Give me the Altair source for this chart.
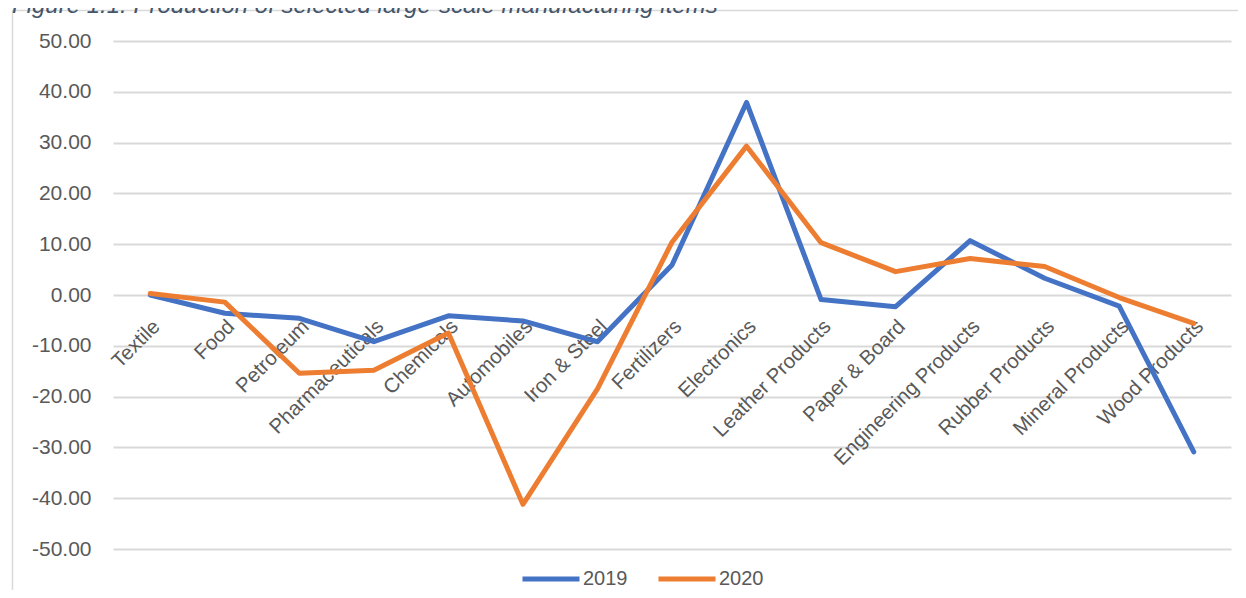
import altair as alt
import pandas as pd

categories = ["Textile", "Food", "Petroleum", "Pharmaceuticals", "Chemicals",
              "Automobiles", "Iron & Steel", "Fertilizers", "Electronics",
              "Leather Products", "Paper & Board", "Engineering Products",
              "Rubber Products", "Mineral Products", "Wood Products"]
values_2019 = [0.0, -3.6, -4.6, -9.2, -4.1, -5.1, -9.2, 5.9, 37.9,
               -0.9, -2.3, 10.7, 3.3, -2.2, -30.9]
values_2020 = [0.3, -1.4, -15.4, -14.8, -7.5, -41.2, -18.5, 10.4, 29.3,
               10.3, 4.6, 7.2, 5.6, -0.5, -5.6]
years = ["2019", "2020"]
colors = ["#4472C4", "#ED7D31"]
y_ticks = [-50, -40, -30, -20, -10, 0, 10, 20, 30, 40, 50]
title_text = "Figure 1.1: Production of selected large-scale manufacturing items"

rows = []
for c, a, b in zip(categories, values_2019, values_2020):
    rows.append({"Category": c, "Year": "2019", "Value": a})
    rows.append({"Category": c, "Year": "2020", "Value": b})
df = pd.DataFrame(rows)

W, H = 1118, 508
FONT = "Liberation Sans"
TXT = "#595959"
GRID = "#D9D9D9"

lines = alt.Chart(df).mark_line(strokeWidth=5, strokeCap="round", strokeJoin="round").encode(
    x=alt.X("Category:N", sort=categories, scale=alt.Scale(padding=0.5),
            axis=alt.Axis(title=None, orient="bottom", offset=-H / 2, domain=False, ticks=False,
                          grid=False, labelAngle=315, labelAlign="right", labelBaseline="top",
                          labelPadding=21, labelOffset=-1, labelFontSize=20.5, labelColor=TXT,
                          labelFont=FONT, labelLimit=400, labelOverlap=False, labelBound=False)),
    y=alt.Y("Value:Q", scale=alt.Scale(domain=[-50, 50], nice=False),
            axis=alt.Axis(title=None, values=y_ticks,
                          labelExpr="replace(format(datum.value, '.2f'), '\u2212', '-')",
                          domain=False, ticks=False, gridColor=GRID, gridWidth=2,
                          labelFontSize=21, labelColor=TXT, labelFont=FONT, labelPadding=22)),
    color=alt.Color("Year:N", scale=alt.Scale(domain=years, range=colors),
                    legend=alt.Legend(title=None, orient="none", legendX=407, legendY=507,
                                      direction="horizontal", symbolType="stroke",
                                      symbolSize=3249, symbolStrokeWidth=5,
                                      labelFontSize=20, labelColor=TXT, labelFont=FONT,
                                      columnPadding=20, labelOffset=1, padding=0)),
)

one = pd.DataFrame({"k": [0]})
frame_left = alt.Chart(one).mark_rule(color=GRID, strokeWidth=1.5).encode(
    x=alt.value(-100.5), y=alt.value(-30.5), y2=alt.value(H + 60))
frame_top = alt.Chart(one).mark_rule(color=GRID, strokeWidth=1.5).encode(
    x=alt.value(-100.5), x2=alt.value(W + 10), y=alt.value(-30.5))
title = alt.Chart(pd.DataFrame({"t": [title_text]})).mark_text(
    align="left", baseline="alphabetic", font=FONT, fontSize=24, fontStyle="italic",
    color="#44546A").encode(x=alt.value(-101), y=alt.value(-28), text="t:N")

chart = alt.layer(frame_left, frame_top, lines, title).properties(
    width=W, height=H,
    autosize=alt.AutoSizeParams(type="none"),
    padding={"left": 105, "top": 33, "right": 7, "bottom": 41},
).configure(font=FONT).configure_view(strokeWidth=0)

chart.save("out.html", embed_options={"renderer": "svg", "actions": False})
